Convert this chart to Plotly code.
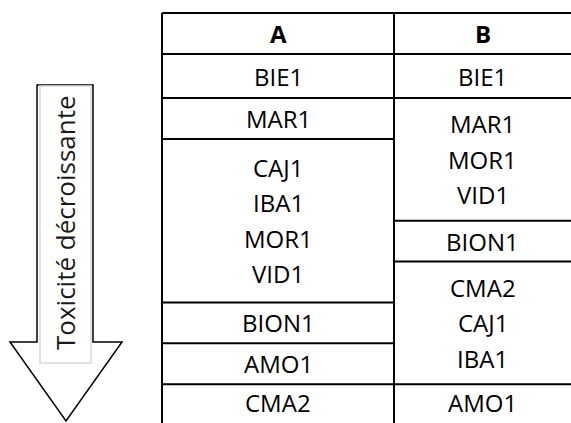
import plotly.graph_objects as go

# ---- data ----
headers = ["A", "B"]
col_A = [["BIE1"], ["MAR1"], ["CAJ1", "IBA1", "MOR1", "VID1"], ["BION1"], ["AMO1"], ["CMA2"]]
col_B = [["BIE1"], ["MAR1", "MOR1", "VID1"], ["BION1"], ["CMA2", "CAJ1", "IBA1"], ["AMO1"]]
arrow_label = "Toxicité décroissante"

# ---- layout geometry (pixels) ----
W, H = 571, 423
FONT = "Open Sans"
FS = 24
x_left, x_mid, x_right = 162, 394, 571
y_top, y_head = 13, 54
first_row_h = 44
unit = (H + 2 - y_head - first_row_h) / 8.0
line_gap = 35.5

fig = go.Figure()
shapes = []
annotations = []

def line(x0, y0, x1, y1, w=2, c="black"):
    shapes.append(dict(type="line", x0=x0, y0=y0, x1=x1, y1=y1, xref="x", yref="y",
                       line=dict(color=c, width=w), layer="above"))

# table frame
line(x_left, y_top, x_right, y_top)
line(x_left, y_head, x_right, y_head)
line(x_left, y_top, x_left, H + 2)
line(x_mid, y_top, x_mid, H + 2)

def draw_col(groups, xa, xb):
    xc = (xa + xb) / 2
    y = y_head
    n = 0
    for gi, g in enumerate(groups):
        if gi == 0:
            y1 = y_head + first_row_h
        else:
            n += len(g)
            y1 = y_head + first_row_h + unit * n
        if gi < len(groups) - 1:
            line(xa, y1, xb, y1)
        yc = (y + min(y1, H - 2)) / 2 if gi == len(groups) - 1 else (y + y1) / 2
        k = len(g)
        for i, name in enumerate(g):
            ty = yc + (i - (k - 1) / 2) * line_gap
            annotations.append(dict(x=xc, y=ty, xref="x", yref="y", text=name, showarrow=False,
                                    font=dict(family=FONT, size=FS, color="black"),
                                    xanchor="center", yanchor="middle"))
        y = y1

draw_col(col_A, x_left, x_mid)
draw_col(col_B, x_mid, x_right)

for hdr, xa, xb in [(headers[0], x_left, x_mid), (headers[1], x_mid, x_right)]:
    annotations.append(dict(x=(xa + xb) / 2, y=(y_top + y_head) / 2, xref="x", yref="y",
                            text="<b>%s</b>" % hdr, showarrow=False,
                            font=dict(family=FONT, size=FS, color="black"),
                            xanchor="center", yanchor="middle"))

# arrow
sx0, sx1, sy0, hy, hx0, hx1, tipx, tipy = 37, 93, 85, 342, 10, 122, 66, 421
path = (f"M {sx0},{sy0} L {sx1},{sy0} L {sx1},{hy} L {hx1},{hy} L {tipx},{tipy} "
        f"L {hx0},{hy} L {sx0},{hy} Z")
shapes.append(dict(type="path", path=path, xref="x", yref="y",
                   line=dict(color="black", width=1.5), fillcolor="white", layer="above"))
shapes.append(dict(type="rect", x0=40, x1=91, y0=86, y1=363, xref="x", yref="y",
                   line=dict(color="#d9d9d9", width=1.5), fillcolor="white", layer="above"))
annotations.append(dict(x=65, y=223, xref="x", yref="y", text=arrow_label, showarrow=False,
                        textangle=-90, font=dict(family=FONT, size=26, color="#1a1a1a"),
                        xanchor="center", yanchor="middle"))

fig.update_layout(
    width=W, height=H, margin=dict(l=0, r=0, t=0, b=0),
    paper_bgcolor="white", plot_bgcolor="white",
    xaxis=dict(range=[0, W], visible=False, fixedrange=True),
    yaxis=dict(range=[H, 0], visible=False, fixedrange=True),
    shapes=shapes, annotations=annotations, showlegend=False,
)
fig.write_html("out.html", config={"displayModeBar": False},
               post_script="document.body.style.margin='0';document.body.style.overflow='hidden';")
